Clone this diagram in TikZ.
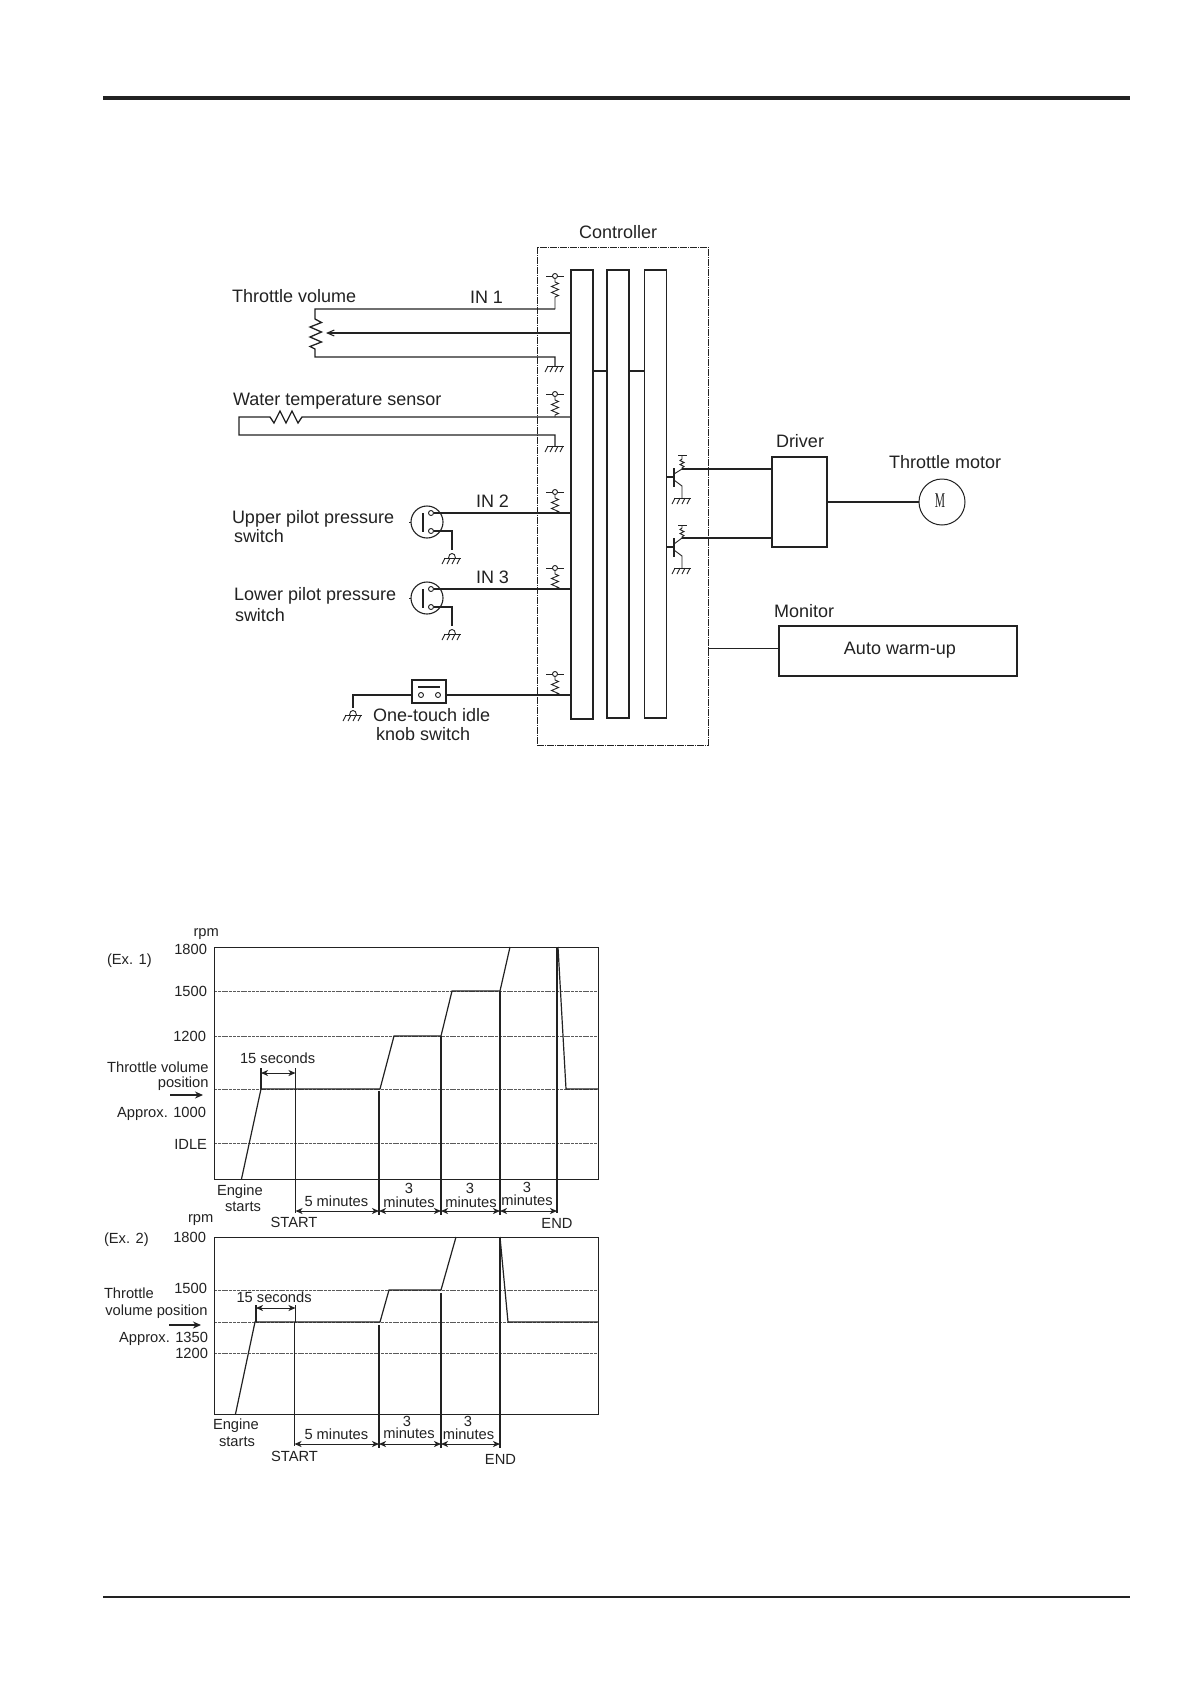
\documentclass[tikz,border=0pt]{standalone}
\usepackage{fontspec}
\setmainfont{Liberation Sans}
\newfontfamily\serifm{Liberation Serif}
\usetikzlibrary{arrows.meta}
\definecolor{ink}{HTML}{222222}
\definecolor{gridc}{HTML}{5a5a5a}
\tikzset{
  wire/.style={draw=ink,line width=1.3pt,line join=miter},
  thinw/.style={draw=ink,line width=.9pt},
  ctrlbox/.style={draw=ink,line width=.8pt,dash pattern=on 7pt off 1pt on 1pt off 1pt,inner sep=0,outer sep=0},
  boxs/.style={draw=ink,line width=1.15pt,inner sep=0,outer sep=0},
  big/.style={font=\fontsize{18}{20}\selectfont,text=ink,inner sep=0,outer sep=0},
  small/.style={font=\fontsize{14.7}{16}\selectfont,text=ink,inner sep=0,outer sep=0},
  dot/.style={circle,draw=ink,line width=.9pt,minimum size=5pt,inner sep=0,outer sep=0,fill=white},
  swc/.style={circle,draw=ink,line width=1.1pt,minimum size=32pt,inner sep=0,outer sep=0},
  gridl/.style={draw=gridc,line width=.8pt,dash pattern=on 3pt off .8pt},
  frame/.style={draw=ink,line width=1pt},
  curve/.style={draw=ink,line width=1.2pt,line join=miter},
  vline/.style={draw=ink,line width=1.05pt},
  dimen/.style={draw=ink,line width=1pt,{Stealth[length=7pt,width=6pt,inset=2pt]}-{Stealth[length=7pt,width=6pt,inset=2pt]}},
  fatarrow/.style={draw=ink,line width=2pt,-{Stealth[length=8pt,width=7pt]}},
}
% pull-up resistor: x, top, bottom
\newcommand{\pullres}[3]{%
  \draw[thinw] (#1,#2) -- ++(0,6) -- ++(3.5,1.5) -- ++(-7,3) -- ++(7,3) -- ++(-7,3) -- ++(7,3) -- ++(-3.5,1.5) -- (#1,#3);
  \draw[thinw] (#1-9,#2) -- (#1+9,#2);
  \node[dot] at (#1,#2) {};
}
% hatched ground: x, y
\newcommand{\hatch}[2]{%
  \draw[thinw] (#1-8,#2) -- (#1+9,#2);
  \foreach \i in {0,1,2,3} {\draw[thinw] (#1-7+\i*5,#2) -- (#1-10+\i*5,#2+6);}
}
% bump ground: x, y of hatch
\newcommand{\bumpgnd}[2]{%
  \draw[thinw] (#1-3.5,#2) .. controls (#1-3.5,#2-6) and (#1+3.5,#2-6) .. (#1+3.5,#2);
  \hatch{#1}{#2}
}
% pressure switch: name, cy, upper contact y, lower contact y
\newcommand{\pswitch}[4]{%
  \node[swc] (#1) at (427,#2) {};
  \node[dot] (#1a) at (431,#3) {};
  \node[dot] (#1b) at (431,#4) {};
  \draw[wire] (423,#3) -- (423,#4+1);
  \draw[thinw] (#1.west) -- ++(-2.5,0);
  \coordinate (#1g) at (452,#4+19);
  \draw[wire] (#1b.east) -- (#1g |- #1b.east) -- (#1g);
  \bumpgnd{452}{#4+27}
}
% transistor: base y, collector y, resistor top y, ground y
\newcommand{\transistor}[4]{%
  \draw[wire] (674,#1-9) -- (674,#1+10);
  \draw[thinw] (674,#1-3) -- (682,#2);
  \draw[thinw] (682,#2) -- ++(0,-1) -- ++(2,-1.5) -- ++(-4,-2) -- ++(4,-2) -- ++(-4,-2) -- ++(2,-1.5) -- (682,#3);
  \draw[thinw] (678,#3) -- (687,#3);
  \draw[thinw] (674,#1+3) -- (682,#1+9) -- (682,#4);
  \hatch{682}{#4}
}
\begin{document}
\begin{tikzpicture}[x=1pt,y=-1pt]
\useasboundingbox (0,0) rectangle (1190,1684);
\fill[white] (0,0) rectangle (1190,1684);
% page rules
\coordinate (ruleTL) at (103,97.5);
\coordinate (ruleTR) at (1130,97.5);
\coordinate (ruleBL) at (103,1597);
\coordinate (ruleBR) at (1130,1597);
\draw[draw=ink,line width=4pt] (ruleTL) -- (ruleTR);
\draw[draw=ink,line width=1.6pt] (ruleBL) -- (ruleBR);

% wire levels
\coordinate (in1) at (0,309);
\coordinate (wip) at (0,333);
\coordinate (gnd1) at (0,357);
\coordinate (wt) at (0,417);
\coordinate (wtg) at (0,435);
\coordinate (in2) at (0,513);
\coordinate (in3) at (0,589);
\coordinate (knob) at (0,695);
\coordinate (link) at (0,371);
\coordinate (q1) at (0,469);
\coordinate (q2) at (0,538);
\coordinate (b1) at (0,477);
\coordinate (b2) at (0,547);
\coordinate (mon) at (0,648);
\coordinate (colx) at (555,0);

% controller
\node[ctrlbox,minimum width=171pt,minimum height=498pt] (ctrl) at (622.5,496) {};
\node[boxs,minimum width=22pt,minimum height=449pt] (bar1) at (582,494.5) {};
\node[boxs,minimum width=22pt,minimum height=448pt] (bar2) at (618,494) {};
\node[boxs,minimum width=22pt,minimum height=448pt] (bar3) at (655.5,494) {};
\node[big,anchor=base west] (lctrl) at (579,238) {Controller};
\draw[wire] (bar1.east |- link) -- (bar2.west |- link);
\draw[wire] (bar2.east |- link) -- (bar3.west |- link);

% pull-ups
\pullres{555}{276}{309}
\pullres{555}{394}{417}
\pullres{555}{492}{513}
\pullres{555}{568}{589}
\pullres{555}{674}{695}

% throttle volume
\node[big,anchor=base west] (ltv) at (232,302) {Throttle volume};
\node[big,anchor=base west] (lin1) at (470,303) {IN 1};
\coordinate (pott) at (315,309);
\coordinate (potb) at (315,357);
\draw[wire] (colx |- in1) -- (pott) -- (315,319) -- (321.5,322.5) -- (310,327) -- (321.5,332) -- (310,337) -- (321.5,342) -- (310,346.5) -- (315,349) -- (potb) -- (colx |- gnd1) -- (555,366);
\hatch{555}{366}
\coordinate (wiper) at (326,333);
\draw[draw=ink,line width=1.05pt,-{Straight Barb[length=7pt,width=6pt]}] (bar1.west |- wip) -- (wiper);

% water temperature
\node[big,anchor=base west] (lwt) at (233,405) {Water temperature sensor};
\coordinate (wtl) at (239,417);
\draw[wire] (bar1.west |- wt) -- (302,417) -- (298,423) -- (292,411) -- (286,423) -- (280,411) -- (274,423) -- (270,417) -- (wtl) -- (239,435) -- (colx |- wtg) -- (555,446);
\hatch{555}{446}

% pressure switches
\node[big,anchor=base west] (lup1) at (232,523) {Upper pilot pressure};
\node[big,anchor=base west] (lup2) at (234,542) {switch};
\node[big,anchor=base west] (llo1) at (234,600) {Lower pilot pressure};
\node[big,anchor=base west] (llo2) at (235,621) {switch};
\node[big,anchor=base west] (lin2) at (476,507) {IN 2};
\node[big,anchor=base west] (lin3) at (476,583) {IN 3};
\pswitch{swu}{522}{513}{531}
\pswitch{swl}{598}{589}{607}
\draw[wire] (bar1.west |- in2) -- (swu.east |- in2) -- (swua.east);
\draw[wire] (bar1.west |- in3) -- (swl.east |- in3) -- (swla.east);

% idle knob switch
\node[boxs,minimum width=34pt,minimum height=23pt] (kn) at (429,691.5) {};
\node[dot] (kna) at (421,695) {};
\node[dot] (knb) at (438,695) {};
\draw[wire] (418,687) -- (440,687);
\coordinate (kngnd) at (353,708);
\draw[wire] (bar1.west |- knob) -- (kn.east |- knob);
\draw[wire] (kn.west |- knob) -- (kngnd |- knob) -- (kngnd);
\bumpgnd{353}{715}
\node[big,anchor=base west] (lk1) at (373,721) {One-touch idle};
\node[big,anchor=base west] (lk2) at (376,740) {knob switch};

% driver, motor, monitor
\node[boxs,minimum width=55pt,minimum height=90pt] (drv) at (799.5,502) {};
\node[big,anchor=base west] (ldrv) at (776,447) {Driver};
\node[circle,draw=ink,line width=1pt,minimum size=46pt,inner sep=0,outer sep=0] (mot) at (942,502) {};
\node[font=\serifm\fontsize{21}{22}\selectfont,text=ink,xscale=.55,inner sep=0] (lm) at (940,501) {M};
\node[big,anchor=base west] (lmot) at (889,468) {Throttle motor};
\draw[wire] (drv.east) -- (mot.west);
\node[boxs,minimum width=238pt,minimum height=50pt] (mbox) at (898,651) {};
\node[big,anchor=base west] (lmon) at (774,617) {Monitor};
\node[big,anchor=center] (lauto) at (900,650) {Auto warm-up};
\draw[thinw] (ctrl.east |- mon) -- (mbox.west |- mon);

% transistors
\transistor{477}{469}{455}{498}
\transistor{547}{538}{525}{568}
\draw[wire] (bar3.east |- b1) -- (674,477);
\draw[wire] (bar3.east |- b2) -- (674,547);
\draw[wire] (682,469) -- (drv.west |- q1);
\draw[wire] (682,538) -- (drv.west |- q2);

% ===== chart 1 =====
\foreach \y in {991,1036,1089,1143} {\draw[gridl] (214,\y) -- (598.5,\y);}
\draw[frame] (214,947) rectangle (598.5,1179);
\draw[curve] (241.5,1179) -- (261,1089) -- (380,1089) -- (394,1036) -- (441,1036) -- (452,991) -- (500,991) -- (510,947);
\draw[curve] (558,947) -- (566,1089) -- (598.5,1089);
\draw[vline] (295.5,1089) -- (295.5,1213);
\draw[vline] (379,1091) -- (379,1215);
\draw[vline] (441,1036) -- (441,1215);
\draw[vline] (500,991) -- (500,1215);
\draw[vline] (557,947) -- (557,1213);
\draw[vline] (261,1068) -- (261,1089);
\draw[vline] (295.5,1068) -- (295.5,1089);
\coordinate (a0) at (261,1073);
\coordinate (a1) at (295.5,1073);
\draw[dimen] (a0) -- (a1);
\coordinate (d0) at (295.5,1211);
\coordinate (d1) at (379,1211);
\coordinate (d2) at (441,1211);
\coordinate (d3) at (500,1211);
\coordinate (d4) at (557,1211);
\draw[dimen] (d0) -- (d1);
\draw[dimen] (d1) -- (d2);
\draw[dimen] (d2) -- (d3);
\draw[dimen] (d3) -- (d4);
\coordinate (fa0) at (170,1095);
\coordinate (fa1) at (203,1095);
\draw[fatarrow] (fa0) -- (fa1);
\node[small,anchor=base west] (t1) at (193.5,936) {rpm};
\node[small,anchor=base west] (t2) at (107,964) {(Ex. 1)};
\node[small,anchor=base east] (t3) at (207,954) {1800};
\node[small,anchor=base east] (t4) at (207,996) {1500};
\node[small,anchor=base east] (t5) at (206,1041) {1200};
\node[small,anchor=base west] (t6) at (240,1063) {15 seconds};
\node[small,anchor=base east] (t7) at (208.5,1072) {Throttle volume};
\node[small,anchor=base east] (t8) at (208.5,1087) {position};
\node[small,anchor=base east] (t9) at (206,1117) {Approx. 1000};
\node[small,anchor=base east] (t10) at (207,1149) {IDLE};
\node[small,anchor=base west] (t11) at (217,1195) {Engine};
\node[small,anchor=base west] (t12) at (225,1211) {starts};
\node[small,anchor=base west] (t13) at (304.5,1206) {5 minutes};
\node[small,anchor=base] (t14) at (409,1193) {3};
\node[small,anchor=base] (t15) at (409,1207) {minutes};
\node[small,anchor=base] (t16) at (470,1193) {3};
\node[small,anchor=base] (t17) at (471,1207) {minutes};
\node[small,anchor=base] (t18) at (527,1192) {3};
\node[small,anchor=base] (t19) at (527,1205) {minutes};
\node[small,anchor=base] (t20) at (294,1227) {START};
\node[small,anchor=base] (t21) at (557,1228) {END};

% ===== chart 2 =====
\foreach \y in {1290,1322,1353} {\draw[gridl] (214,\y) -- (598.5,\y);}
\draw[frame] (214,1237) rectangle (598.5,1414);
\draw[curve] (235.5,1414) -- (255,1322) -- (380,1322) -- (389,1290) -- (441,1290) -- (456,1237);
\draw[curve] (500,1237) -- (508,1322) -- (598.5,1322);
\draw[vline] (294.5,1322) -- (294.5,1446);
\draw[vline] (379,1325) -- (379,1448);
\draw[vline] (441,1293) -- (441,1448);
\draw[vline] (500,1237) -- (500,1448);
\draw[vline] (256,1305) -- (256,1322);
\draw[vline] (295.5,1305) -- (295.5,1322);
\coordinate (b0) at (256,1308);
\coordinate (bb1) at (295.5,1308);
\draw[dimen] (b0) -- (bb1);
\coordinate (e0) at (294.5,1444);
\coordinate (e1) at (379,1444);
\coordinate (e2) at (441,1444);
\coordinate (e3) at (500,1444);
\draw[dimen] (e0) -- (e1);
\draw[dimen] (e1) -- (e2);
\draw[dimen] (e2) -- (e3);
\coordinate (fb0) at (169,1325);
\coordinate (fb1) at (201,1325);
\draw[fatarrow] (fb0) -- (fb1);
\node[small,anchor=base west] (u1) at (188,1222) {rpm};
\node[small,anchor=base west] (u2) at (104,1243) {(Ex. 2)};
\node[small,anchor=base east] (u3) at (206,1242) {1800};
\node[small,anchor=base east] (u4) at (207,1293) {1500};
\node[small,anchor=base west] (u5) at (104,1298) {Throttle};
\node[small,anchor=base west] (u6) at (236.5,1302) {15 seconds};
\node[small,anchor=base east] (u7) at (207.5,1315) {volume position};
\node[small,anchor=base east] (u8) at (208,1342) {Approx. 1350};
\node[small,anchor=base east] (u9) at (208,1358) {1200};
\node[small,anchor=base west] (u10) at (213,1429) {Engine};
\node[small,anchor=base west] (u11) at (219,1446) {starts};
\node[small,anchor=base west] (u12) at (304.5,1439) {5 minutes};
\node[small,anchor=base] (u13) at (407,1426) {3};
\node[small,anchor=base] (u14) at (409,1438) {minutes};
\node[small,anchor=base] (u15) at (468,1426) {3};
\node[small,anchor=base] (u16) at (468.5,1439) {minutes};
\node[small,anchor=base] (u17) at (294.5,1461) {START};
\node[small,anchor=base] (u18) at (500.5,1464) {END};
\end{tikzpicture}
\end{document}
